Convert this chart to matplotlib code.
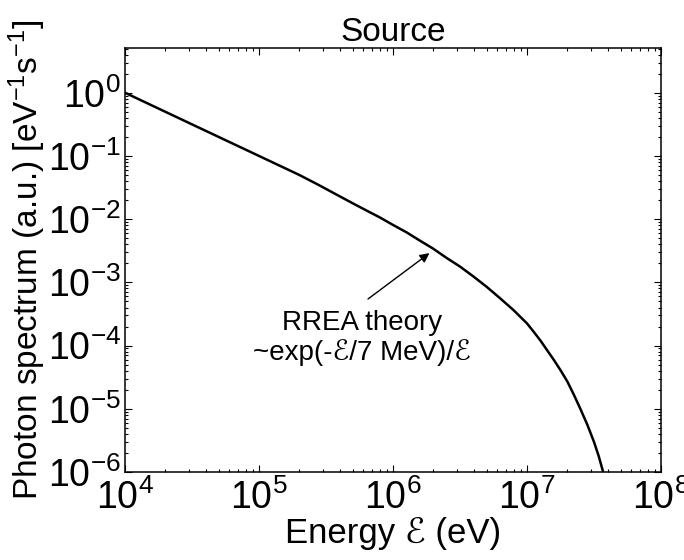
import matplotlib
matplotlib.use("Agg")
import matplotlib.pyplot as plt
from matplotlib.ticker import LogLocator

plt.rcParams['font.family'] = ['Liberation Sans', 'DejaVu Sans']
plt.rcParams['mathtext.fontset'] = 'custom'
plt.rcParams['mathtext.rm'] = 'Liberation Sans'
plt.rcParams['mathtext.it'] = 'Liberation Sans:italic'
plt.rcParams['mathtext.bf'] = 'Liberation Sans:bold'

# Values
energy_ev = [1e4, 3.16e4, 1e5, 2e5, 2.82e5, 4e5, 5.01e5, 6.3e5, 7.94e5, 1e6,
             1.26e6, 1.58e6, 2.0e6, 2.5e6, 3.16e6, 4e6, 5.0e6, 6.3e6, 7.94e6,
             1e7, 1.12e7, 1.26e7, 1.41e7, 1.58e7, 1.78e7, 2e7, 2.24e7, 2.5e7,
             2.82e7, 3.16e7, 3.43e7, 3.7e7]
spectrum = [1.0, 0.316, 0.1, 0.05, 3.43e-2, 0.023, 0.0178, 0.0138, 0.0107, 8.1e-3,
            6.2e-3, 4.6e-3, 3.4e-3, 2.45e-3, 1.78e-3, 1.23e-3, 8.5e-4, 5.6e-4, 3.63e-4,
            2.24e-4, 1.66e-4, 1.2e-4, 8.5e-5, 6.0e-5, 4.07e-5, 2.7e-5, 1.66e-5, 1.0e-5,
            5.6e-6, 3.0e-6, 1.78e-6, 1.0e-6]

title = "Source"
xlabel = "Energy ℰ (eV)"
ylabel = "Photon spectrum (a.u.) [eV$^{-1}$s$^{-1}$]"
note = "RREA theory\n~exp(-ℰ/7 MeV)/ℰ"
arrow_target = (1.87e6, 2.9e-3)

fig = plt.figure(figsize=(6.84, 5.6), dpi=100)
ax = fig.add_axes([125/684, 1-472/560, (661-125)/684, (472-48)/560])

ax.plot(energy_ev, spectrum, color='black', lw=1.8, solid_joinstyle='round')
ax.set_xscale('log')
ax.set_yscale('log')
ax.set_xlim(1e4, 1e8)
ax.set_ylim(1e-6, 5.1)

ax.xaxis.set_major_locator(LogLocator(base=10, numticks=10))
ax.yaxis.set_major_locator(LogLocator(base=10, numticks=12))
ax.xaxis.set_minor_locator(LogLocator(base=10, subs=range(2, 10), numticks=50))
ax.yaxis.set_minor_locator(LogLocator(base=10, subs=range(2, 10), numticks=50))

ax.tick_params(which='both', direction='in', top=True, right=True, width=0.8)
ax.tick_params(which='major', length=5, labelsize=27)
ax.tick_params(which='minor', length=2.5)
ax.tick_params(axis='x', which='major', pad=5)
ax.tick_params(axis='y', which='major', pad=3)
for s in ax.spines.values():
    s.set_linewidth(1.1)

ax.set_title(title, fontsize=24, pad=5)
ax.set_xlabel(xlabel, fontsize=25, labelpad=0)
ax.set_ylabel(ylabel, fontsize=24, labelpad=0)

ax.annotate('', xy=arrow_target, xycoords='data',
            xytext=(368, 560-299), textcoords='figure pixels',
            arrowprops=dict(arrowstyle='-|>', color='black', lw=1.0,
                            mutation_scale=14, shrinkA=0, shrinkB=0))
fig.text(362/684, 1-338/560, note, ha='center', va='center', fontsize=20,
         linespacing=1.15)

fig.savefig('out.png', dpi=100)
